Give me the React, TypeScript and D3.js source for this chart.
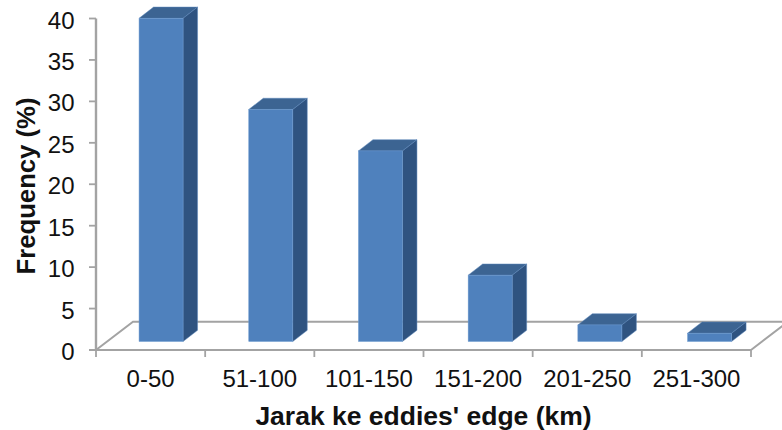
import React from "react";
import * as d3 from "d3";

const categories = ["0-50", "51-100", "101-150", "151-200", "201-250", "251-300"];
const frequency = [39, 28, 23, 8, 2, 1];
const yTicks = [0, 5, 10, 15, 20, 25, 30, 35, 40];
const yTitle = "Frequency (%)";
const xTitle = "Jarak ke eddies' edge (km)";

const W = 782;
const H = 430;
const axisLeft = 96;
const axisRight = 751;
const axisBottom = 350;
const axisTop = 18.5;
const depthX = 37;
const depthY = 28.3;
const barDepthX = 14.5;
const barDepthY = 11.2;
const barBaseLift = 8.5;
// Bars sit on the mid-depth plane, so their bands are offset from the axis bands.
const barBandStart = 106.2;
const barBandEnd = 764.4;

const FRONT = "#4f81bd";
const SIDE = "#2f5380";
const TOP = "#3c6492";
const AXIS = "#a3a3a3";
const FONT = "'Liberation Sans', Arial, sans-serif";

export default function App() {
  const x = d3.scaleBand<string>().domain(categories).range([axisLeft, axisRight]);
  const xBar = d3.scaleBand<string>().domain(categories).range([barBandStart, barBandEnd]);
  const y = d3.scaleLinear().domain([0, 40]).range([axisBottom, axisTop]);
  const barWidth = 44;

  const edges = [axisLeft, ...categories.map((c) => (x(c) as number) + x.bandwidth())];
  const floor = d3.line();

  return (
    <svg
      width={W}
      height={H}
      viewBox={`0 0 ${W} ${H}`}
      style={{ position: "absolute", left: 0, top: 0, background: "#fff" }}
    >
      {/* floor of the 3D plot */}
      <path
        d={floor([
          [axisLeft, axisBottom],
          [axisLeft + depthX, axisBottom - depthY],
          [axisRight + depthX, axisBottom - depthY],
          [axisRight, axisBottom],
        ]) as string}
        fill="none"
        stroke={AXIS}
        strokeWidth={2}
      />
      {/* value axis */}
      <line x1={axisLeft} x2={axisLeft} y1={y(40)} y2={y(0)} stroke={AXIS} strokeWidth={2.4} />
      {yTicks.map((t) => (
        <g key={t}>
          <line x1={axisLeft - 7} x2={axisLeft} y1={y(t)} y2={y(t)} stroke={AXIS} strokeWidth={1.8} />
          <text
            x={74.5}
            y={y(t) + 1.5}
            textAnchor="end"
            dominantBaseline="central"
            fontFamily={FONT}
            fontSize={24}
            fill="#111"
          >
            {t}
          </text>
        </g>
      ))}
      {/* category axis */}
      <line x1={axisLeft - 7} x2={axisRight} y1={axisBottom} y2={axisBottom} stroke={AXIS} strokeWidth={2} />
      {edges.map((e) => (
        <line key={e} x1={e} x2={e} y1={axisBottom} y2={axisBottom + 7} stroke={AXIS} strokeWidth={1.8} />
      ))}
      {categories.map((c) => (
        <text
          key={c}
          x={(x(c) as number) + x.bandwidth() / 2}
          y={378}
          dominantBaseline="central"
          textAnchor="middle"
          fontFamily={FONT}
          fontSize={24}
          fill="#111"
        >
          {c}
        </text>
      ))}
      {/* bars as extruded boxes */}
      {categories.map((c, i) => {
        const left = (xBar(c) as number) + (xBar.bandwidth() - barWidth) / 2;
        const right = left + barWidth;
        const base = axisBottom - barBaseLift;
        const top = base - (axisBottom - y(frequency[i]));
        const dx = barDepthX;
        const dy = barDepthY;
        return (
          <g key={c}>
            <path
              d={`M${left},${top}L${left + dx},${top - dy}L${right + dx},${top - dy}L${right},${top}Z`}
              fill={TOP}
              stroke="#5a86bb"
              strokeWidth={0.5}
            />
            <path
              d={`M${right},${top}L${right + dx},${top - dy}L${right + dx},${base - dy}L${right},${base}Z`}
              fill={SIDE}
              stroke="#5a86bb"
              strokeWidth={0.5}
            />
            <rect x={left} y={top} width={barWidth} height={base - top} fill={FRONT} stroke="#6f9bd0" strokeWidth={0.5} />
          </g>
        );
      })}
      <text
        transform="translate(26,186) rotate(-90)"
        textAnchor="middle"
        dominantBaseline="central"
        fontFamily={FONT}
        fontWeight="bold"
        fontSize={25.7}
        fill="#111"
      >
        {yTitle}
      </text>
      <text
        x={423.5}
        y={416}
        textAnchor="middle"
        dominantBaseline="central"
        fontFamily={FONT}
        fontWeight="bold"
        fontSize={26.5}
        fill="#111"
      >
        {xTitle}
      </text>
    </svg>
  );
}
